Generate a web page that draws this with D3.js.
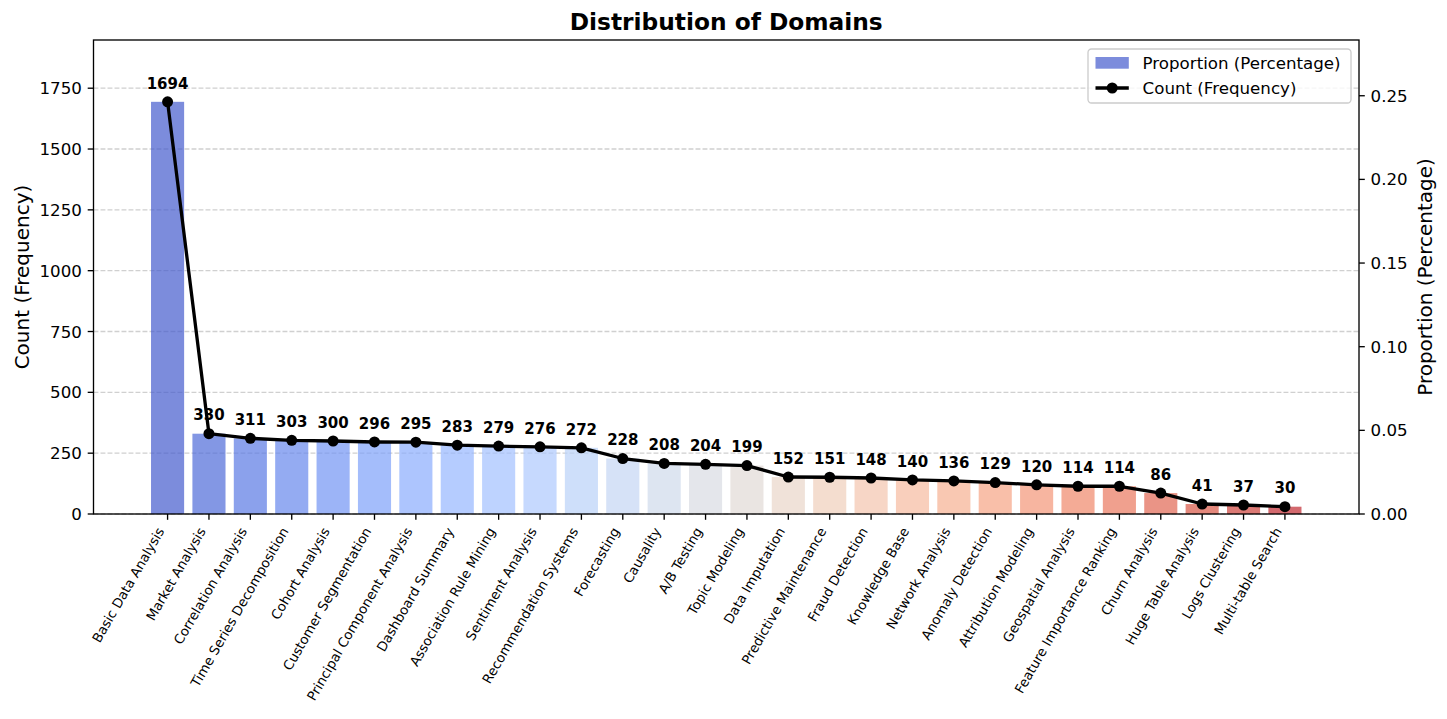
<!DOCTYPE html>
<html><head><meta charset="utf-8">
<script src="https://cdn.jsdelivr.net/npm/d3@7/dist/d3.min.js"></script>
<style>
body{margin:0;background:#fff}
text{font-family:"DejaVu Sans",sans-serif;fill:#000}
</style></head>
<body><svg id="chart" width="1447" height="719"></svg>
<script>
const domains = ["Basic Data Analysis","Market Analysis","Correlation Analysis","Time Series Decomposition","Cohort Analysis","Customer Segmentation","Principal Component Analysis","Dashboard Summary","Association Rule Mining","Sentiment Analysis","Recommendation Systems","Forecasting","Causality","A/B Testing","Topic Modeling","Data Imputation","Predictive Maintenance","Fraud Detection","Knowledge Base","Network Analysis","Anomaly Detection","Attribution Modeling","Geospatial Analysis","Feature Importance Ranking","Churn Analysis","Huge Table Analysis","Logs Clustering","Multi-table Search"];
const counts = [1694,330,311,303,300,296,295,283,279,276,272,228,208,204,199,152,151,148,140,136,129,120,114,114,86,41,37,30];
const leftTicks = [0,250,500,750,1000,1250,1500,1750];
const rightTicks = [0,0.05,0.10,0.15,0.20,0.25];
const title = "Distribution of Domains";
const leftLabel = "Count (Frequency)";
const rightLabel = "Proportion (Percentage)";
const legendLabels = ["Proportion (Percentage)","Count (Frequency)"];

// matplotlib coolwarm stops
const coolwarmStops = [[59,76,192],[68,90,204],[77,104,215],[87,117,225],[98,130,234],[108,142,241],[119,154,247],[130,165,251],[141,176,254],[152,185,255],[163,194,255],[174,201,253],[184,208,249],[194,213,244],[204,217,238],[213,219,230],[221,221,221],[229,216,209],[236,211,197],[241,204,184],[245,196,172],[247,187,159],[247,177,147],[247,166,134],[244,154,123],[241,141,111],[236,127,99],[229,112,89],[222,96,77],[213,80,66],[203,62,56],[192,40,47],[180,4,38]];
const coolwarm = d3.scaleLinear()
  .domain(coolwarmStops.map((_, i) => i / (coolwarmStops.length - 1)))
  .range(coolwarmStops.map(c => d3.rgb(c[0], c[1], c[2]).toString()))
  .interpolate(d3.interpolateRgb);

const total = d3.sum(counts);
const props = counts.map(c => c / total);
const n = domains.length;
const colors = domains.map((_, i) => coolwarm((i + 1) / (n + 1)));

const svg = d3.select("#chart");
const L = 93.5, R = 1359, T = 40, B = 514;

const x = d3.scaleLinear().domain([-1.79, n - 1 + 1.79]).range([L, R]);
const yL = d3.scaleLinear().domain([0, d3.max(counts) * 1.15]).range([B, T]);
const yR = d3.scaleLinear().domain([0, d3.max(props) * 1.15]).range([B, T]);
const bw = x(0.8) - x(0);

// grid
svg.append("g").selectAll("line").data(leftTicks).join("line")
  .attr("x1", L).attr("x2", R)
  .attr("y1", d => yL(d)).attr("y2", d => yL(d))
  .attr("stroke", "#b0b0b0").attr("stroke-opacity", 0.6)
  .attr("stroke-width", 1.33).attr("stroke-dasharray", "4.9,2.1");

// bars (proportion)
svg.append("g").selectAll("rect").data(props).join("rect")
  .attr("x", (d, i) => x(i) - bw / 2)
  .attr("width", bw)
  .attr("y", d => yR(d))
  .attr("height", d => B - yR(d))
  .attr("fill", (d, i) => colors[i])
  .attr("fill-opacity", 0.7);

// line (count)
const line = d3.line().x((d, i) => x(i)).y(d => yL(d));
svg.append("path").datum(counts)
  .attr("d", line).attr("fill", "none")
  .attr("stroke", "#000").attr("stroke-width", 3.3).attr("stroke-linejoin", "round");
svg.append("g").selectAll("circle").data(counts).join("circle")
  .attr("cx", (d, i) => x(i)).attr("cy", d => yL(d)).attr("r", 5.5).attr("fill", "#000");

// value labels
svg.append("g").selectAll("text").data(counts).join("text")
  .attr("x", (d, i) => x(i)).attr("y", d => yL(d) - 13.3)
  .attr("text-anchor", "middle").attr("font-weight", "bold").attr("font-size", 15)
  .text(d => d);

// frame
svg.append("rect").attr("x", L).attr("y", T).attr("width", R - L).attr("height", B - T)
  .attr("fill", "none").attr("stroke", "#000").attr("stroke-width", 1.33);

// left axis
const gl = svg.append("g");
leftTicks.forEach(t => {
  gl.append("line").attr("x1", L - 5.8).attr("x2", L).attr("y1", yL(t)).attr("y2", yL(t))
    .attr("stroke", "#000").attr("stroke-width", 1.33);
  gl.append("text").attr("x", L - 11.6).attr("y", yL(t)).attr("dy", "0.36em")
    .attr("text-anchor", "end").attr("font-size", 16.67).text(t);
});
// right axis
const gr = svg.append("g");
rightTicks.forEach(t => {
  gr.append("line").attr("x1", R).attr("x2", R + 5.8).attr("y1", yR(t)).attr("y2", yR(t))
    .attr("stroke", "#000").attr("stroke-width", 1.33);
  gr.append("text").attr("x", R + 11.6).attr("y", yR(t)).attr("dy", "0.36em")
    .attr("text-anchor", "start").attr("font-size", 16.67).text(d3.format(".2f")(t));
});
// bottom axis
const gb = svg.append("g");
domains.forEach((dname, i) => {
  gb.append("line").attr("x1", x(i)).attr("x2", x(i)).attr("y1", B).attr("y2", B + 5.8)
    .attr("stroke", "#000").attr("stroke-width", 1.33);
  gb.append("text")
    .attr("transform", `translate(${x(i) - 2.8},${531}) rotate(-60)`)
    .attr("text-anchor", "end").attr("font-size", 13.3).text(dname);
});

// axis labels & title
svg.append("text").attr("transform", "translate(29,277) rotate(-90)")
  .attr("text-anchor", "middle").attr("font-size", 20).text(leftLabel);
svg.append("text").attr("transform", "translate(1432,277) rotate(-90)")
  .attr("text-anchor", "middle").attr("font-size", 20).text(rightLabel);
svg.append("text").attr("x", (L + R) / 2).attr("y", 30)
  .attr("text-anchor", "middle").attr("font-size", 23.3).attr("font-weight", "bold").text(title);

// legend
const lg = svg.append("g");
lg.append("rect").attr("x", 1088).attr("y", 49).attr("width", 263).attr("height", 54)
  .attr("rx", 3.5).attr("fill", "#fff").attr("fill-opacity", 0.8)
  .attr("stroke", "#cccccc").attr("stroke-width", 1.33);
lg.append("rect").attr("x", 1095.5).attr("y", 57).attr("width", 33.3).attr("height", 11.7)
  .attr("fill", colors[0]).attr("fill-opacity", 0.7);
lg.append("line").attr("x1", 1095.5).attr("x2", 1128.8).attr("y1", 88).attr("y2", 88)
  .attr("stroke", "#000").attr("stroke-width", 3.3);
lg.append("circle").attr("cx", 1112.2).attr("cy", 88).attr("r", 5.5).attr("fill", "#000");
lg.selectAll("text.lt").data(legendLabels).join("text")
  .attr("x", 1142.6).attr("y", (d, i) => [62.8, 88][i]).attr("dy", "0.36em")
  .attr("font-size", 16.67).text(d => d);
</script></body></html>
